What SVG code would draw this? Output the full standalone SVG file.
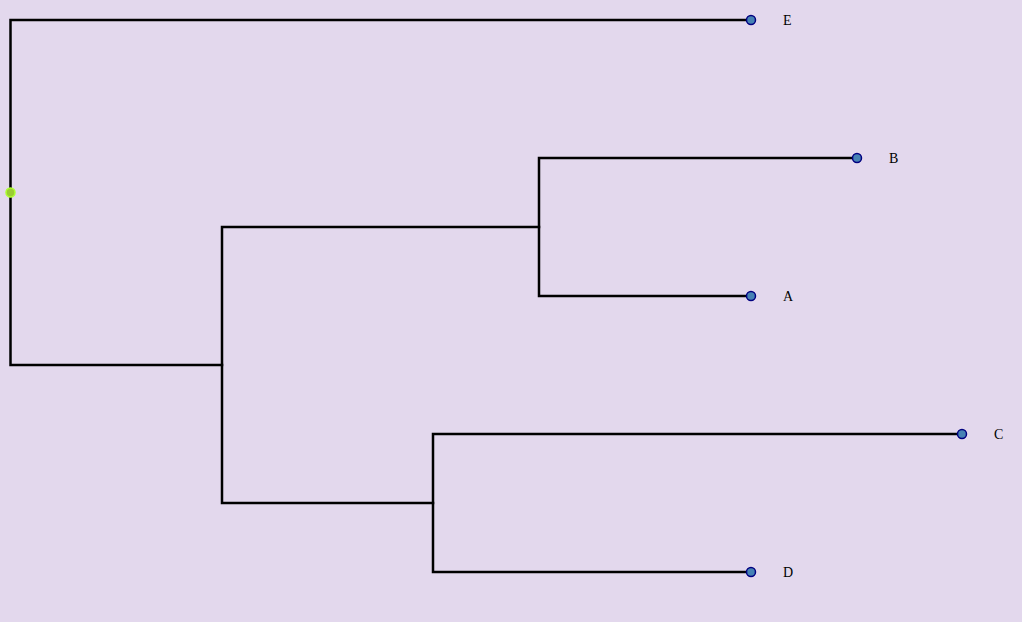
<svg xmlns="http://www.w3.org/2000/svg" width="1022" height="622" viewBox="0 0 1022 622">
<style>
.link{fill:none;stroke:#000;stroke-width:2.5;stroke-linecap:square;stroke-linejoin:miter}
.leaf{fill:#4682b4;stroke:#000080;stroke-width:1.5}
.root{fill:#9acd32;stroke:#adff2f;stroke-width:1.5}
.lbl{font-family:"Liberation Serif",serif;font-size:14px;fill:#000}
</style>
<rect width="1022" height="622" fill="#e3d8ed"/>
<g id="connectors">
<path class="link" d="M751,20H10.5V365H222"/>
<path class="link" d="M539,227H222V503H433"/>
<path class="link" d="M857,158H539V296H751"/>
<path class="link" d="M962,434H433V572H751"/>
</g>
<g id="root"><circle class="root" cx="10.5" cy="192.5" r="4.5"/></g>
<g id="E"><circle class="leaf" cx="751" cy="20" r="4.5"/><text class="lbl" x="783" y="25">E</text></g>
<g id="B"><circle class="leaf" cx="857" cy="158" r="4.5"/><text class="lbl" x="889" y="163">B</text></g>
<g id="A"><circle class="leaf" cx="751" cy="296" r="4.5"/><text class="lbl" x="783" y="301">A</text></g>
<g id="C"><circle class="leaf" cx="962" cy="434" r="4.5"/><text class="lbl" x="994" y="439">C</text></g>
<g id="D"><circle class="leaf" cx="751" cy="572" r="4.5"/><text class="lbl" x="783" y="577">D</text></g>
</svg>
